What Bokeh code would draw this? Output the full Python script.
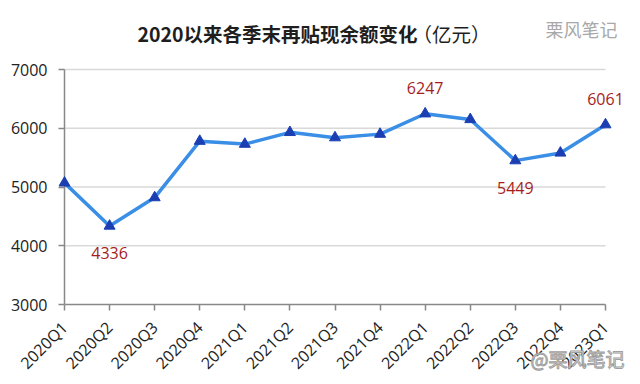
import math
from bokeh.plotting import figure
from bokeh.models import ColumnDataSource, LabelSet, Label, FixedTicker, Range1d, Title
from bokeh.core.properties import value
from bokeh.embed import file_html
from bokeh.resources import INLINE

quarters = ["2020Q1", "2020Q2", "2020Q3", "2020Q4", "2021Q1", "2021Q2", "2021Q3",
            "2021Q4", "2022Q1", "2022Q2", "2022Q3", "2022Q4", "2023Q1"]
balance = [5070, 4336, 4820, 5780, 5730, 5930, 5840, 5900, 6247, 6150, 5449, 5580, 6061]
label_idx = [1, 8, 10, 12]
label_pos = ["below", "above", "below", "above"]
y_ticks = [3000, 4000, 5000, 6000, 7000]
title_main = "2020以来各季末再贴现余额变化"
title_unit = "（亿元）"
watermark_top = "栗风笔记"
watermark_bottom = "@栗风笔记"

xs = list(range(len(quarters)))
src = ColumnDataSource(dict(x=xs, y=balance))

lab_src = ColumnDataSource(dict(
    x=[xs[i] for i in label_idx],
    y=[balance[i] for i in label_idx],
    t=[str(balance[i]) for i in label_idx],
    off=[-27 if p == "below" else 26 for p in label_pos],
))

grid_src = ColumnDataSource(dict(
    x0=[xs[0]] * (len(y_ticks) - 1), x1=[xs[-1]] * (len(y_ticks) - 1),
    y=y_ticks[1:],
))

# ---- layout geometry (pixels) ----
W, H = 640, 384
frame_l, frame_r = 58, 630        # frame edges
frame_t, frame_b = 4, 304         # frame edges (top area holds title texts)
first_cat_px, last_cat_px = 64, 605
top_tick_px = 69                  # where the top y tick sits

n = len(quarters) - 1
px_unit = (last_cat_px - first_cat_px) / n
x_start = -(first_cat_px - frame_l) / px_unit
x_end = n + (frame_r - last_cat_px) / px_unit
px_per_y = (frame_b - top_tick_px) / (y_ticks[-1] - y_ticks[0])
y_end = y_ticks[0] + (frame_b - frame_t) / px_per_y

p = figure(width=W, height=H, output_backend="svg", toolbar_location=None,
           x_range=Range1d(x_start, x_end), y_range=Range1d(y_ticks[0], y_end),
           min_border_left=frame_l, min_border_right=W - frame_r,
           min_border_top=frame_t, min_border_bottom=H - frame_b)
p.outline_line_color = None
p.background_fill_color = "white"
p.border_fill_color = "white"

# title texts (screen units: from frame left / frame bottom)
p.add_layout(Label(x=417 - frame_l, y=frame_b - 33, x_units="screen", y_units="screen",
                   text=title_main, text_align="right", text_baseline="middle",
                   text_font="Noto Sans CJK SC", text_font_size="19.5px",
                   text_font_style="bold", text_color="#1e1e1e"))
p.add_layout(Label(x=412 - frame_l, y=frame_b - 33, x_units="screen", y_units="screen",
                   text=title_unit, text_align="left", text_baseline="middle",
                   text_font="Noto Sans CJK SC", text_font_size="19.5px",
                   text_font_style="normal", text_color="#1e1e1e"))
p.add_layout(Label(x=545 - frame_l, y=frame_b - 28, x_units="screen", y_units="screen",
                   text=watermark_top, text_align="left", text_baseline="middle",
                   text_font="Noto Sans CJK SC", text_font_size="18px",
                   text_color="#a8a8a8"))

wm_bot = Title(text=watermark_bottom, align="left", offset=530 - frame_l,
               vertical_align="top", standoff=-80,
               text_font="Noto Sans CJK SC", text_font_size="19px",
               text_font_style="normal", text_color="#f4f4f4",
               text_outline_color="#a0a0a0")
p.add_layout(wm_bot, "below")

# grid lines and y axis line
p.segment(x0="x0", x1="x1", y0="y", y1="y", source=grid_src,
          line_color="#d9d9d9", line_width=1.5, level="underlay")
p.segment(x0=[xs[0]], x1=[xs[0]], y0=[y_ticks[0]], y1=[y_ticks[-1]],
          line_color="#888888", line_width=1.5)

p.line("x", "y", source=src, line_color="#3A8EE6", line_width=3.5)
p.scatter("x", "y", source=src, marker="triangle", size=11,
          fill_color="#1b3fb2", line_color="#1b3fb2")

labels = LabelSet(x="x", y="y", text="t", source=lab_src, y_offset="off",
                  text_align="center", text_baseline="middle",
                  text_font=value("Open Sans"), text_font_size="16px",
                  text_color="#a51d1d")
p.add_layout(labels)

# axes
p.xaxis.ticker = FixedTicker(ticks=xs)
p.xaxis.bounds = (xs[0], xs[-1])
p.xaxis.major_label_overrides = {i: q for i, q in enumerate(quarters)}
p.xaxis.major_label_orientation = math.pi / 4
p.xaxis.major_label_text_font = "Open Sans"
p.xaxis.major_label_text_font_size = "16px"
p.xaxis.major_label_text_color = "#222222"
p.xaxis.axis_line_color = "#888888"
p.xaxis.axis_line_width = 1.5
p.xaxis.major_tick_line_color = "#888888"
p.xaxis.major_tick_line_width = 1.5
p.xaxis.major_tick_out = 6
p.xaxis.major_tick_in = 0
p.xaxis.minor_tick_line_color = None
p.xaxis.major_label_standoff = 14

p.yaxis.ticker = FixedTicker(ticks=y_ticks)
p.yaxis.major_label_text_font = "Open Sans"
p.yaxis.major_label_text_font_size = "16px"
p.yaxis.major_label_text_color = "#222222"
p.yaxis.axis_line_color = None
p.yaxis.major_tick_line_color = "#888888"
p.yaxis.major_tick_line_width = 1.5
p.yaxis.major_tick_out = 0
p.yaxis.major_tick_in = 6
p.yaxis.minor_tick_line_color = None
p.yaxis.major_label_standoff = 11

p.xgrid.grid_line_color = None
p.ygrid.grid_line_color = None

open("out.html", "w").write(file_html(p, INLINE))
